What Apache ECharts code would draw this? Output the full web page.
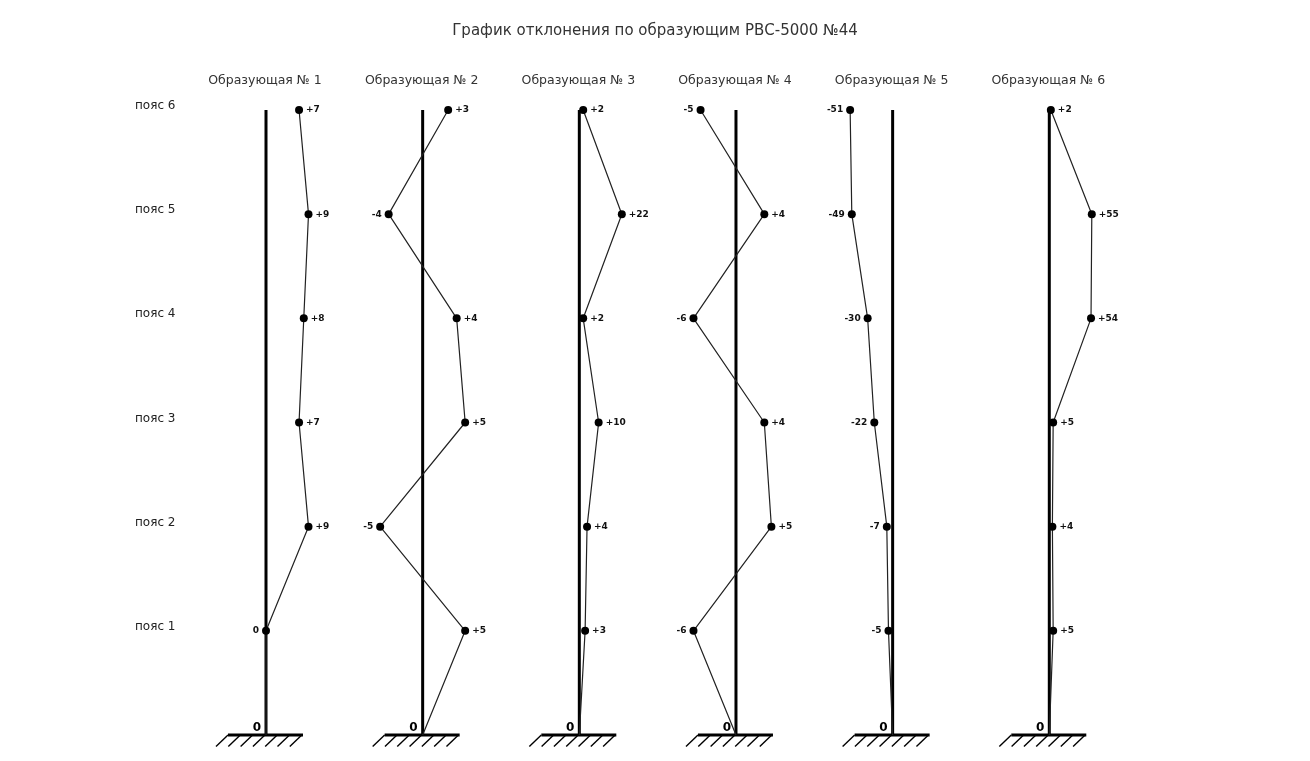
<!DOCTYPE html>
<html><head><meta charset="utf-8">
<script src="https://cdn.jsdelivr.net/npm/echarts@6/dist/echarts.min.js"></script>
<style>html,body{margin:0;padding:0;background:#fff}#c{width:1310px;height:761px}</style>
</head><body><div id="c"></div>
<script>
var chartTitle = 'График отклонения по образующим РВС-5000 №44';
var panelNames = ['Образующая № 1','Образующая № 2','Образующая № 3','Образующая № 4','Образующая № 5','Образующая № 6'];
var beltLabels = ['пояс 1','пояс 2','пояс 3','пояс 4','пояс 5','пояс 6'];
// deviations per generatrix, belt 1..6
var gen1 = [0, 9, 7, 8, 9, 7];
var gen2 = [5, -5, 5, 4, -4, 3];
var gen3 = [3, 4, 10, 2, 22, 2];
var gen4 = [-6, 5, 4, -6, 4, -5];
var gen5 = [-5, -7, -22, -30, -49, -51];
var gen6 = [5, 4, 5, 54, 55, 2];
var gens = [gen1, gen2, gen3, gen4, gen5, gen6];

var FONT = 'DejaVu Sans';
var chart = echarts.init(document.getElementById('c'));
var grids = [], xAxes = [], yAxes = [], series = [], titles = [];
titles.push({text: chartTitle, left: 'center', top: 24, padding: 0, textStyle: {fontFamily: FONT, fontSize: 15, fontWeight: 'normal', color: '#333'}});

var step = 156.66, c0 = 266, half = 60;
// label grid (belt names)
grids.push({left: 130, width: 1, top: 110, height: 625});
xAxes.push({gridIndex: 0, type: 'value', show: false, min: 0, max: 1});
yAxes.push({gridIndex: 0, type: 'value', min: 0, max: 6, interval: 1, position: 'right',
  axisLine: {show: false}, axisTick: {show: false}, splitLine: {show: false},
  axisLabel: {margin: 4, align: 'left', fontFamily: FONT, fontSize: 12, color: '#222', verticalAlign: 'bottom', padding: [0,0,-2,0],
    formatter: function (v) { return v >= 1 && v <= 6 ? beltLabels[v - 1] : ''; }}});

gens.forEach(function (vals, i) {
  var gi = i + 1;
  var cx = c0 + i * step;
  var maxAbs = Math.max.apply(null, vals.map(Math.abs));
  var R = maxAbs * half / 42.5;
  grids.push({left: cx - half, width: 2 * half, top: 110, height: 625});
  xAxes.push({gridIndex: gi, type: 'value', min: -R, max: R, show: false});
  yAxes.push({gridIndex: gi, type: 'value', min: 0, max: 6, show: false});
  titles.push({text: panelNames[i], left: cx - 1, textAlign: 'center', top: 74, padding: 0,
    textStyle: {fontFamily: FONT, fontSize: 12.5, fontWeight: 'normal', color: '#333'}});
  series.push({
    type: 'custom', xAxisIndex: gi, yAxisIndex: gi, z: 1, silent: true,
    data: [[0, 0]],
    renderItem: function (params, api) {
      var g = api.coord([0, 0]), t = api.coord([0, 6]);
      var ch = [
        {type: 'line', shape: {x1: g[0], y1: g[1], x2: t[0], y2: t[1]}, style: {stroke: '#000', lineWidth: 3}},
        {type: 'line', shape: {x1: g[0] - 38, y1: g[1], x2: g[0] + 37, y2: g[1]}, style: {stroke: '#000', lineWidth: 3}}
      ];
      for (var k = 0; k < 7; k++) {
        var x = g[0] - 50 + k * 12.3;
        ch.push({type: 'line', shape: {x1: x, y1: g[1] + 11.5, x2: x + 12, y2: g[1]}, style: {stroke: '#000', lineWidth: 1.4}});
      }
      ch.push({type: 'text', style: {text: '0', x: g[0] - 5, y: g[1] - 1.5, align: 'right', verticalAlign: 'bottom',
        font: 'bold 12px "DejaVu Sans"', fill: '#000'}});
      return {type: 'group', children: ch};
    }
  });
  var data = [{value: [0, 0], symbol: 'none', label: {show: false}}];
  vals.forEach(function (v, b) {
    data.push({value: [v, b + 1], label: {position: v > 0 ? 'right' : 'left'}});
  });
  series.push({
    type: 'line', xAxisIndex: gi, yAxisIndex: gi, z: 3, silent: true,
    data: data, symbol: 'circle', symbolSize: 8, clip: false,
    itemStyle: {color: '#000'},
    lineStyle: {color: '#222', width: 1.2},
    label: {show: true, distance: 3, fontFamily: FONT, fontSize: 9, fontWeight: 'bold', color: '#111',
      formatter: function (p) { var v = p.value[0]; return v > 0 ? '+' + v : String(v); }}
  });
});

chart.setOption({animation: false, title: titles, grid: grids, xAxis: xAxes, yAxis: yAxes, series: series});
</script></body></html>
